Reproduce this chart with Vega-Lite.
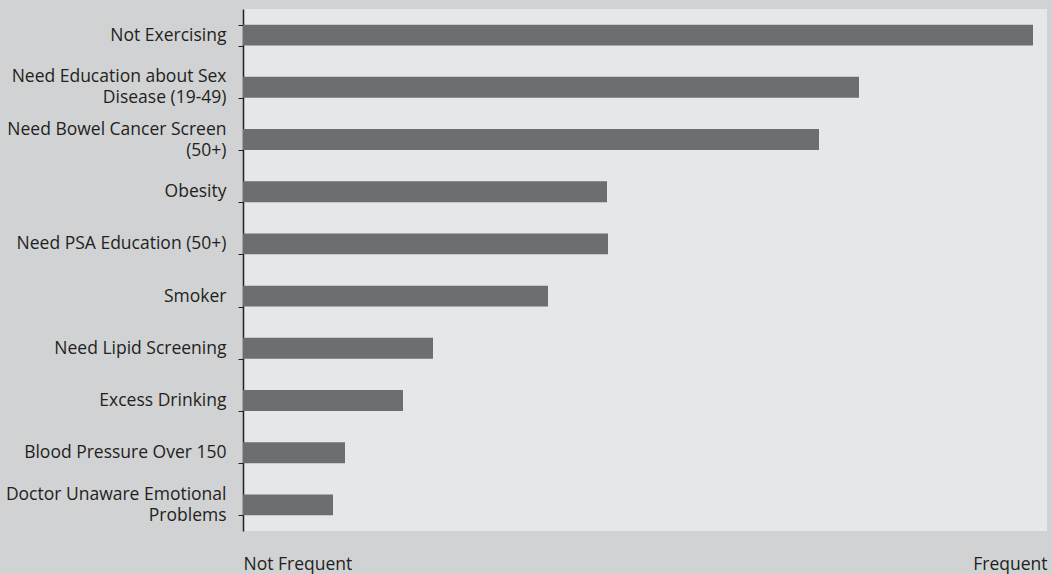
{
  "$schema": "https://vega.github.io/schema/vega-lite/v6.json",
  "width": 804,
  "height": 522,
  "autosize": {"type": "none"},
  "padding": {"left": 243, "top": 9, "right": 5, "bottom": 43},
  "background": "#d1d2d4",
  "config": {
    "view": {"fill": "#e6e7e8", "stroke": null},
    "font": "Open Sans"
  },
  "data": {
    "values": [
      {"issue": "Not Exercising", "frequency": 790},
      {"issue": "Need Education about Sex|Disease (19-49)", "frequency": 616},
      {"issue": "Need Bowel Cancer Screen|(50+)", "frequency": 576},
      {"issue": "Obesity", "frequency": 364},
      {"issue": "Need PSA Education (50+)", "frequency": 365},
      {"issue": "Smoker", "frequency": 305},
      {"issue": "Need Lipid Screening", "frequency": 190},
      {"issue": "Excess Drinking", "frequency": 160},
      {"issue": "Blood Pressure Over 150", "frequency": 102},
      {"issue": "Doctor Unaware Emotional|Problems", "frequency": 90}
    ]
  },
  "mark": {"type": "bar", "color": "#6d6e71"},
  "encoding": {
    "y": {
      "field": "issue",
      "type": "nominal",
      "sort": null,
      "scale": {"paddingInner": 0.6, "paddingOuter": 0.3},
      "axis": {
        "title": null,
        "labelExpr": "isValid(datum.value) ? split(datum.value, '|') : ''",
        "labelOffset": {"condition": {"test": "isValid(datum.value) && indexof(datum.value, '|') >= 0", "value": -10.5}, "value": 0},
        "labelFontSize": 17.5,
        "labelColor": "#231f20",
        "labelLineHeight": 21,
        "labelPadding": 12,
        "labelLimit": 240,
        "tickBand": "extent",
        "tickSize": 5,
        "tickColor": "#231f20",
        "domainColor": "#231f20",
        "domainWidth": 1.5,
        "tickWidth": 1
      }
    },
    "x": {
      "field": "frequency",
      "type": "quantitative",
      "scale": {"domain": [0, 804], "nice": false},
      "axis": {
        "title": null,
        "values": [0, 804],
        "labelExpr": "datum.value == 0 ? 'Not Frequent' : 'Frequent'",
        "labelFlush": true,
        "labelFontSize": 17.5,
        "labelColor": "#231f20",
        "labelPadding": 24,
        "ticks": false,
        "domain": false,
        "grid": false
      }
    }
  }
}
